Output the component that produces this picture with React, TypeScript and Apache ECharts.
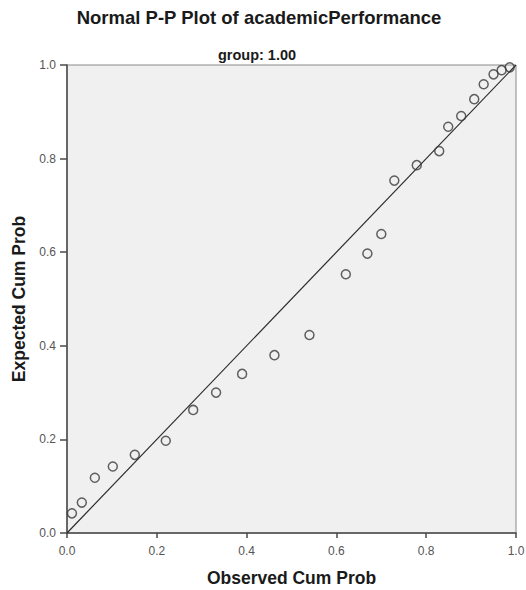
import React, { useEffect, useRef } from "react";
import * as echarts from "echarts";

const chartTitle = "Normal P-P Plot of academicPerformance";
const groupLabel = "group: 1.00";
const xAxisName = "Observed Cum Prob";
const yAxisName = "Expected Cum Prob";

const observedCumProb = [
  0.011, 0.033, 0.062, 0.102, 0.151, 0.22, 0.281, 0.332, 0.39, 0.462, 0.54,
  0.621, 0.669, 0.7, 0.729, 0.779, 0.829, 0.849, 0.878, 0.907, 0.928, 0.95,
  0.968, 0.986,
];
const expectedCumProb = [
  0.042, 0.065, 0.118, 0.142, 0.167, 0.197, 0.263, 0.3, 0.34, 0.38, 0.423,
  0.553, 0.597, 0.639, 0.753, 0.786, 0.816, 0.868, 0.891, 0.927, 0.959, 0.98,
  0.989, 0.995,
];
const referenceLine = [
  [0, 0],
  [1, 1],
];

const FONT = "'Liberation Sans', Arial, sans-serif";

export default function App() {
  const ref = useRef<HTMLDivElement>(null);
  useEffect(() => {
    if (!ref.current) return;
    const chart = echarts.init(ref.current, null, { renderer: "svg" });
    const points = observedCumProb.map((x, i) => [x, expectedCumProb[i]]);
    chart.setOption({
      animation: false,
      backgroundColor: "#ffffff",
      textStyle: { fontFamily: FONT },
      graphic: [
        {
          type: "text",
          x: 259,
          y: 17,
          style: {
            text: chartTitle,
            fontFamily: FONT,
            fontSize: 18.5,
            fontWeight: "bold",
            fill: "#1a1a1a",
            textAlign: "center",
            textVerticalAlign: "middle",
          },
        },
        {
          type: "text",
          x: 257,
          y: 55,
          style: {
            text: groupLabel,
            fontFamily: FONT,
            fontSize: 14.5,
            fontWeight: "bold",
            fill: "#1a1a1a",
            textAlign: "center",
            textVerticalAlign: "middle",
          },
        },
      ],
      grid: {
        left: 67,
        top: 65,
        width: 449,
        height: 468,
        containLabel: false,
        outerBoundsMode: "none",
        show: true,
        backgroundColor: "#f0f0f0",
        borderColor: "#8a8a8a",
        borderWidth: 1,
      },
      xAxis: {
        type: "value",
        min: 0,
        max: 1,
        interval: 0.2,
        name: xAxisName,
        nameLocation: "middle",
        nameGap: 36,
        nameTextStyle: {
          fontFamily: FONT,
          fontSize: 17.5,
          fontWeight: "bold",
          color: "#1a1a1a",
        },
        axisLine: { show: true, lineStyle: { color: "#4a4a4a", width: 1.5 } },
        axisTick: { show: true, inside: false, length: 5, lineStyle: { color: "#4a4a4a", width: 1.5 } },
        axisLabel: {
          margin: 12,
          fontFamily: FONT,
          fontSize: 12,
          color: "#555555",
          formatter: (v: number) => v.toFixed(1),
        },
        splitLine: { show: false },
      },
      yAxis: {
        type: "value",
        min: 0,
        max: 1,
        interval: 0.2,
        name: yAxisName,
        nameLocation: "middle",
        nameGap: 38,
        nameRotate: 90,
        nameTextStyle: {
          fontFamily: FONT,
          fontSize: 17.5,
          fontWeight: "bold",
          color: "#1a1a1a",
        },
        axisLine: { show: true, lineStyle: { color: "#4a4a4a", width: 1.5 } },
        axisTick: { show: true, inside: false, length: 7, lineStyle: { color: "#4a4a4a", width: 1.5 } },
        axisLabel: {
          margin: 11,
          fontFamily: FONT,
          fontSize: 12,
          color: "#555555",
          formatter: (v: number) => v.toFixed(1),
        },
        splitLine: { show: false },
      },
      series: [
        {
          type: "line",
          data: referenceLine,
          symbol: "none",
          lineStyle: { color: "#2a2a2a", width: 1.2 },
          silent: true,
          z: 2,
        },
        {
          type: "scatter",
          data: points,
          symbol: "circle",
          symbolSize: 9,
          itemStyle: {
            color: "rgba(0,0,0,0)",
            borderColor: "#3a3a3a",
            borderWidth: 1.5,
          },
          z: 3,
        },
      ],
    });
    return () => chart.dispose();
  }, []);
  return (
    <div
      ref={ref}
      style={{ position: "fixed", left: 0, top: 0, width: 526, height: 590 }}
    />
  );
}
